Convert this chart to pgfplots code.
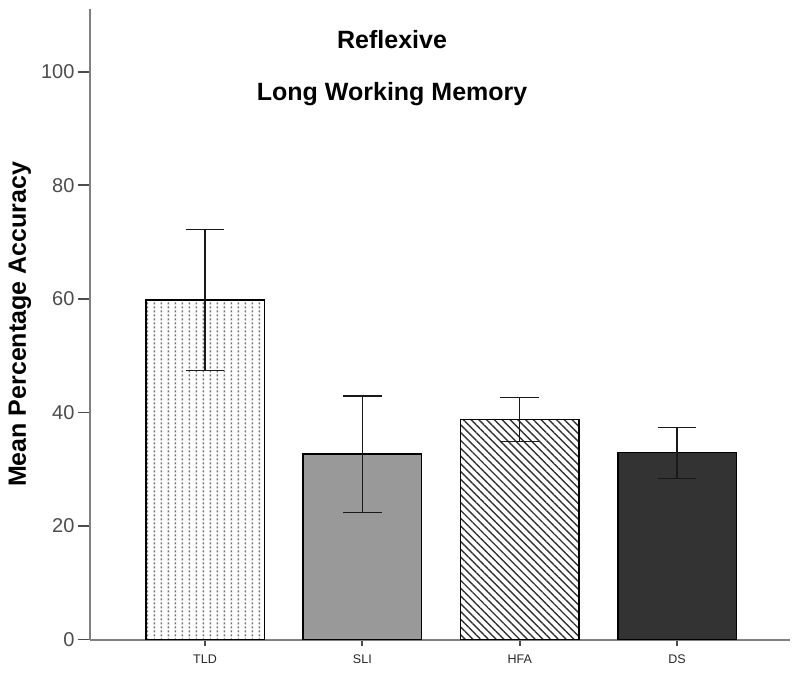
\documentclass[border=0pt]{standalone}
\usepackage{pgfplots}
\pgfplotsset{compat=1.18}
\usepackage{fontspec}
\setmainfont{Liberation Sans}
\usetikzlibrary{patterns,patterns.meta}

\pgfdeclarepattern{
  name=vdots,
  type=uncolored,
  bottom left={\pgfpoint{0pt}{0pt}},
  top right={\pgfpoint{7.2pt}{4pt}},
  tile size={\pgfpoint{7.2pt}{4pt}},
  code={\pgfpathrectangle{\pgfpoint{3pt}{0.8pt}}{\pgfpoint{1.5pt}{2.4pt}}\pgfusepath{fill}}
}

\begin{document}
\begin{tikzpicture}
\begin{axis}[
  scale only axis,
  width=700pt, height=630.2pt,
  xmin=-0.731, xmax=3.718, ymin=0, ymax=111,
  axis lines*=left,
  axis line style={draw=black!50, line width=2pt},
  ytick={0,20,40,60,80,100},
  xtick={0,1,2,3},
  xticklabels={TLD,SLI,HFA,DS},
  tick align=outside,
  major tick length=12pt,
  tick style={draw=black!70, line width=1.8pt},
  xtick style={/pgfplots/major tick length=6pt},
  /pgf/number format/assume math mode=true,
  y tick label style={font=\fontsize{20}{20}\selectfont, text=black!70},
  x tick label style={font=\fontsize{12.5}{12.5}\selectfont, text=black!85},
  ylabel={Mean Percentage Accuracy},
  every axis y label/.style={at={(axis description cs:-0.1,0.5)}, anchor=center, rotate=90,
    font=\bfseries\fontsize{25}{25}\selectfont},
  clip=false,
  error bars/error bar style={line width=1.3pt, black!90},
  error bars/error mark options={rotate=90, mark size=19.3pt, line width=1.3pt, black!90},
]
\addplot[ybar, bar shift=0pt, bar width=118.5pt, draw=black, line width=1.5pt,
  pattern=vdots, pattern color=black!55,
  error bars/.cd, y dir=both, y explicit]
  coordinates {(0,59.8) +- (0,12.4)};
\addplot[ybar, bar shift=0pt, bar width=118.5pt, draw=black, line width=1.5pt,
  fill=black!40,
  error bars/.cd, y dir=both, y explicit]
  coordinates {(1,32.65) +- (0,10.25)};
\addplot[ybar, bar shift=0pt, bar width=118.5pt, draw=black, line width=1.5pt,
  pattern={Lines[angle=-45, distance=5.5pt, line width=1.4pt]}, pattern color=black!80,
  error bars/.cd, y dir=both, y explicit]
  coordinates {(2,38.75) +- (0,3.85)};
\addplot[ybar, bar shift=0pt, bar width=118.5pt, draw=black, line width=1.5pt,
  fill=black!80,
  error bars/.cd, y dir=both, y explicit]
  coordinates {(3,32.9) +- (0,4.5)};
\node[anchor=base, font=\bfseries\fontsize{25}{25}\selectfont] at (axis cs:1.189,104.1) {Reflexive};
\node[anchor=base, font=\bfseries\fontsize{25}{25}\selectfont] at (axis cs:1.189,95.0) {Long Working Memory};
\end{axis}
\path (current axis.south west) ++(-90pt,-32.5pt) rectangle ++(800pt,672pt);
\end{tikzpicture}
\end{document}
